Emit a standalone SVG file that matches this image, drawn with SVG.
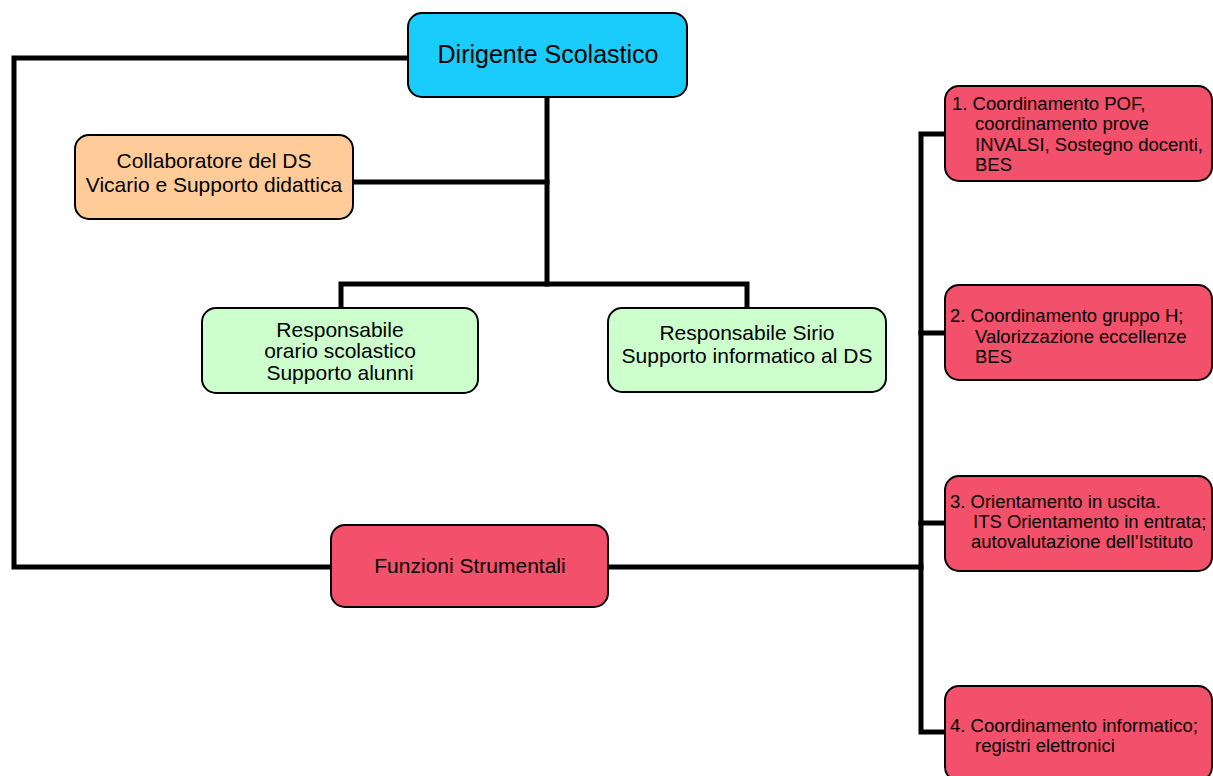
<svg xmlns="http://www.w3.org/2000/svg" width="1213" height="776" viewBox="0 0 1213 776">
<style>
.box{stroke:#000;stroke-width:2}
.ds{fill:#19CCFB}
.col{fill:#FFCC99}
.grn{fill:#CCFFCC}
.red{fill:#F2506B}
text{font-family:"Liberation Sans",Arial,sans-serif;fill:#000}
.c{text-anchor:middle;font-size:21px}
.big{text-anchor:middle;font-size:25px}
.s{font-size:18.5px}
.conn{fill:none;stroke:#000;stroke-width:5;stroke-linejoin:miter;stroke-linecap:square}
</style>
<rect width="1213" height="776" fill="#fff"/>
<g id="connectors">
<polyline class="conn" points="408,58 14,58 14,567 331,567"/>
<line class="conn" x1="547" y1="97" x2="547" y2="284"/>
<line class="conn" x1="353" y1="182" x2="547" y2="182"/>
<polyline class="conn" points="341,308 341,284 747,284 747,308"/>
<line class="conn" x1="608" y1="567" x2="921" y2="567"/>
<polyline class="conn" points="945,134 921,134 921,732 945,732"/>
<line class="conn" x1="921" y1="333" x2="945" y2="333"/>
<line class="conn" x1="921" y1="523" x2="945" y2="523"/>
</g>
<g id="dirigente">
<rect class="box ds" x="408" y="13" width="279" height="84" rx="14"/>
<text class="big" x="548" y="63">Dirigente Scolastico</text>
</g>
<g id="collaboratore">
<rect class="box col" x="75" y="135" width="278" height="84" rx="14"/>
<text class="c" x="214" y="168">Collaboratore del DS</text>
<text class="c" x="214" y="192">Vicario e Supporto didattica</text>
</g>
<g id="resp-orario">
<rect class="box grn" x="202" y="308" width="276" height="85" rx="14"/>
<text class="c" x="340" y="337">Responsabile</text>
<text class="c" x="340" y="358">orario scolastico</text>
<text class="c" x="340" y="380">Supporto alunni</text>
</g>
<g id="resp-sirio">
<rect class="box grn" x="608" y="308" width="278" height="84" rx="14"/>
<text class="c" x="747" y="340">Responsabile Sirio</text>
<text class="c" x="747" y="363">Supporto informatico al DS</text>
</g>
<g id="funzioni">
<rect class="box red" x="331" y="525" width="277" height="82" rx="14"/>
<text class="c" x="470" y="573">Funzioni Strumentali</text>
</g>
<g id="fs1">
<rect class="box red" x="945" y="86" width="267" height="95" rx="14"/>
<text class="s" x="952" y="110">1. Coordinamento POF,</text>
<text class="s" x="975" y="130">coordinamento prove</text>
<text class="s" x="975" y="151">INVALSI, Sostegno docenti,</text>
<text class="s" x="975" y="171">BES</text>
</g>
<g id="fs2">
<rect class="box red" x="945" y="285" width="267" height="95" rx="14"/>
<text class="s" x="950" y="322">2. Coordinamento gruppo H;</text>
<text class="s" x="975" y="343">Valorizzazione eccellenze</text>
<text class="s" x="975" y="363">BES</text>
</g>
<g id="fs3">
<rect class="box red" x="945" y="476" width="267" height="95" rx="14"/>
<text class="s" x="950" y="508">3. Orientamento in uscita.</text>
<text class="s" x="973" y="528">ITS Orientamento in entrata;</text>
<text class="s" x="971" y="548">autovalutazione dell’Istituto</text>
</g>
<g id="fs4">
<rect class="box red" x="945" y="686" width="267" height="95" rx="14"/>
<text class="s" x="950" y="732">4. Coordinamento informatico;</text>
<text class="s" x="975" y="752">registri elettronici</text>
</g>
</svg>
